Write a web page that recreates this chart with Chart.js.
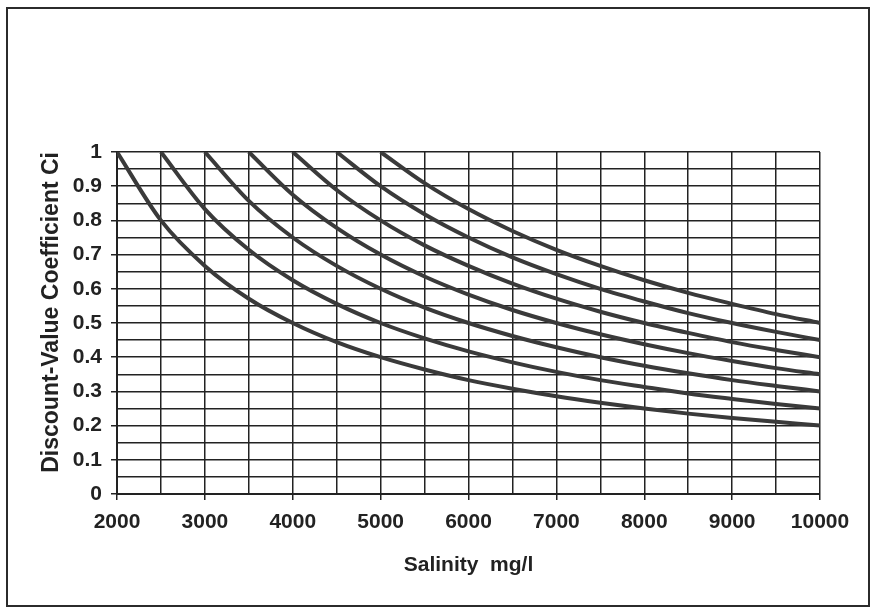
<!DOCTYPE html>
<html>
<head>
<meta charset="utf-8">
<script src="https://cdn.jsdelivr.net/npm/chart.js@4"></script>
<style>
  html, body { margin: 0; padding: 0; background: #fff; }
  #wrap { position: relative; width: 876px; height: 614px; }
  #frame { position: absolute; left: 6px; top: 7px; width: 864px; height: 600px; border: 2px solid #2b2b2b; box-sizing: border-box; pointer-events: none; }
</style>
</head>
<body>
<div id="wrap">
  <canvas id="chart" width="876" height="614"></canvas>
  <div id="frame"></div>
</div>
<script>
// salinity steps (mg/l)
const salinity = [2000, 2500, 3000, 3500, 4000, 4500, 5000, 5500, 6000, 6500, 7000, 7500, 8000, 8500, 9000, 9500, 10000];

// discount-value coefficient per curve, named after the salinity where it leaves 1
const ci2000 = [1.000, 0.800, 0.667, 0.571, 0.500, 0.444, 0.400, 0.364, 0.333, 0.308, 0.286, 0.267, 0.250, 0.235, 0.222, 0.211, 0.200];
const ci2500 = [null, 1.000, 0.833, 0.714, 0.625, 0.556, 0.500, 0.455, 0.417, 0.385, 0.357, 0.333, 0.313, 0.294, 0.278, 0.263, 0.250];
const ci3000 = [null, null, 1.000, 0.857, 0.750, 0.667, 0.600, 0.545, 0.500, 0.462, 0.429, 0.400, 0.375, 0.353, 0.333, 0.316, 0.300];
const ci3500 = [null, null, null, 1.000, 0.875, 0.778, 0.700, 0.636, 0.583, 0.538, 0.500, 0.467, 0.438, 0.412, 0.389, 0.368, 0.350];
const ci4000 = [null, null, null, null, 1.000, 0.889, 0.800, 0.727, 0.667, 0.615, 0.571, 0.533, 0.500, 0.471, 0.444, 0.421, 0.400];
const ci4500 = [null, null, null, null, null, 1.000, 0.900, 0.818, 0.750, 0.692, 0.643, 0.600, 0.563, 0.529, 0.500, 0.474, 0.450];
const ci5000 = [null, null, null, null, null, null, 1.000, 0.909, 0.833, 0.769, 0.714, 0.667, 0.625, 0.588, 0.556, 0.526, 0.500];

const curves = [ci2000, ci2500, ci3000, ci3500, ci4000, ci4500, ci5000];

const fontFamily = '"Liberation Sans", Arial, sans-serif';
const ink = '#222';

const datasets = curves.map((values, i) => ({
    label: 'C' + (i + 1),
    data: values.map((y, j) => ({ x: salinity[j], y: y })),
    borderColor: '#3a3a3a',
    borderWidth: 4,
    pointRadius: 0,
    fill: false,
    cubicInterpolationMode: 'monotone',
}));

const ctx = document.getElementById('chart').getContext('2d');
new Chart(ctx, {
    type: 'line',
    data: { datasets: datasets },
    options: {
        responsive: false,
        animation: false,
        layout: { padding: { left: 26, right: 56, top: 152, bottom: 30 } },
        plugins: {
            legend: { display: false },
            tooltip: { enabled: false },
        },
        scales: {
            x: {
                type: 'linear',
                min: 2000,
                max: 10000,
                afterFit: (scale) => { scale.height = 90; },
                ticks: {
                    stepSize: 500,
                    autoSkip: false,
                    maxRotation: 0,
                    padding: 10,
                    color: ink,
                    font: { family: fontFamily, size: 21, weight: 'bold' },
                    callback: (v) => (v % 1000 === 0 ? String(v) : ''),
                },
                grid: {
                    color: ink,
                    lineWidth: 1.5,
                    tickLength: 6,
                    tickColor: (c) => (c.tick && c.tick.value % 1000 === 0 ? ink : 'rgba(0,0,0,0)'),
                },
                border: { color: ink, width: 2 },
                title: {
                    display: true,
                    text: 'Salinity  mg/l',
                    color: ink,
                    padding: { top: 0, bottom: 6 },
                    font: { family: fontFamily, size: 21, weight: 'bold' },
                },
            },
            y: {
                min: 0,
                max: 1,
                afterFit: (scale) => { scale.width = 91; },
                ticks: {
                    stepSize: 0.05,
                    autoSkip: false,
                    padding: 9,
                    color: ink,
                    font: { family: fontFamily, size: 21, weight: 'bold' },
                    callback: (v) => {
                        const r = Math.round(v * 100);
                        return r % 10 === 0 ? String(r / 100) : '';
                    },
                },
                grid: {
                    color: ink,
                    lineWidth: 1.5,
                    tickLength: 6,
                    tickColor: (c) => (c.tick && Math.round(c.tick.value * 100) % 10 === 0 ? ink : 'rgba(0,0,0,0)'),
                },
                border: { color: ink, width: 2 },
                title: {
                    display: true,
                    text: 'Discount-Value Coefficient Ci',
                    align: 'end',
                    color: ink,
                    padding: { top: 12, bottom: 0 },
                    font: { family: fontFamily, size: 23, weight: 'bold' },
                },
            },
        },
    },
});
</script>
</body>
</html>
